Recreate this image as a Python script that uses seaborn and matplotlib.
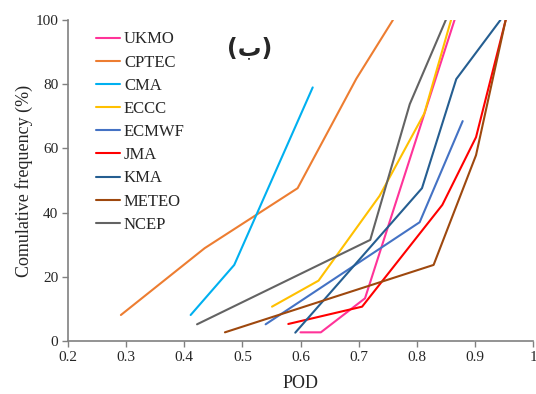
import matplotlib
matplotlib.use("Agg")
import matplotlib.pyplot as plt
import seaborn as sns
import pandas as pd

models = ["UKMO", "CPTEC", "CMA", "ECCC", "ECMWF", "JMA", "KMA", "METEO", "NCEP"]
colors = ["#FF3399", "#ED7D31", "#00B0F0", "#FFC000", "#4472C4",
          "#FF0000", "#255E91", "#9E480E", "#636363"]

ukmo_pod = [0.600, 0.635, 0.711, 0.865]
ukmo_cf = [2.7, 2.7, 13.3, 100]
cptec_pod = [0.291, 0.435, 0.595, 0.696, 0.759]
cptec_cf = [8.1, 28.9, 47.6, 81.7, 100]
cma_pod = [0.411, 0.486, 0.621]
cma_cf = [8.1, 23.7, 79.0]
eccc_pod = [0.551, 0.631, 0.736, 0.813, 0.859]
eccc_cf = [10.7, 18.8, 45.2, 70.9, 100]
ecmwf_pod = [0.540, 0.805, 0.879]
ecmwf_cf = [5.2, 37.0, 68.5]
jma_pod = [0.579, 0.706, 0.844, 0.902, 0.953]
jma_cf = [5.3, 10.7, 42.4, 63.5, 100]
kma_pod = [0.591, 0.809, 0.868, 0.944]
kma_cf = [2.6, 47.6, 81.6, 100]
meteo_pod = [0.470, 0.829, 0.902, 0.953]
meteo_cf = [2.7, 23.7, 57.9, 100]
ncep_pod = [0.422, 0.720, 0.788, 0.850]
ncep_cf = [5.2, 31.5, 73.8, 100]

x_ticks = [0.2, 0.3, 0.4, 0.5, 0.6, 0.7, 0.8, 0.9, 1.0]
x_tick_labels = ["0.2", "0.3", "0.4", "0.5", "0.6", "0.7", "0.8", "0.9", "1"]
y_ticks = [0, 20, 40, 60, 80, 100]

series = {
    "UKMO": (ukmo_pod, ukmo_cf), "CPTEC": (cptec_pod, cptec_cf),
    "CMA": (cma_pod, cma_cf), "ECCC": (eccc_pod, eccc_cf),
    "ECMWF": (ecmwf_pod, ecmwf_cf), "JMA": (jma_pod, jma_cf),
    "KMA": (kma_pod, kma_cf), "METEO": (meteo_pod, meteo_cf),
    "NCEP": (ncep_pod, ncep_cf),
}
rows = []
for m in models:
    xs, ys = series[m]
    for i, (a, b) in enumerate(zip(xs, ys)):
        rows.append({"model": m, "POD": a, "cf": b, "order": i})
df = pd.DataFrame(rows)

sns.set_style("white")
plt.rcParams["font.family"] = ["Liberation Serif", "DejaVu Sans"]

fig = plt.figure(figsize=(5.36, 3.94), dpi=100)
ax = fig.add_axes([68 / 536, 1 - 341 / 394, (533 - 68) / 536, (341 - 20) / 394])

sns.lineplot(data=df, x="POD", y="cf", hue="model", hue_order=models,
             palette=colors, sort=False, estimator=None, units="model",
             linewidth=1.5, ax=ax)

ax.set_xlim(0.2, 1.0)
ax.set_ylim(0, 100)
ax.set_xticks(x_ticks)
ax.set_xticklabels(x_tick_labels)
ax.set_yticks(y_ticks)
ax.tick_params(axis="both", direction="out", length=4, width=1, color="#808080",
               labelsize=11, pad=3, bottom=True, left=True)
for s in ["top", "right"]:
    ax.spines[s].set_visible(False)
for s in ["left", "bottom"]:
    ax.spines[s].set_color("#808080")
    ax.spines[s].set_linewidth(1.2)

ax.set_xlabel("POD", fontsize=13, labelpad=8)
ax.set_ylabel("Comulative frequency (%)", fontsize=13, labelpad=2)

handles, labels = ax.get_legend_handles_labels()
ax.legend(handles, labels, loc="upper left", bbox_to_anchor=(0.045, 0.985),
          frameon=False, fontsize=12, handlelength=1.45, handletextpad=0.25,
          labelspacing=0.43, borderaxespad=0)

ax.text(0.391, 0.913, "(ب)", transform=ax.transAxes, fontsize=17,
        fontweight="bold", ha="center", va="center",
        family=["DejaVu Sans"])

fig.savefig("out.png", dpi=100)
